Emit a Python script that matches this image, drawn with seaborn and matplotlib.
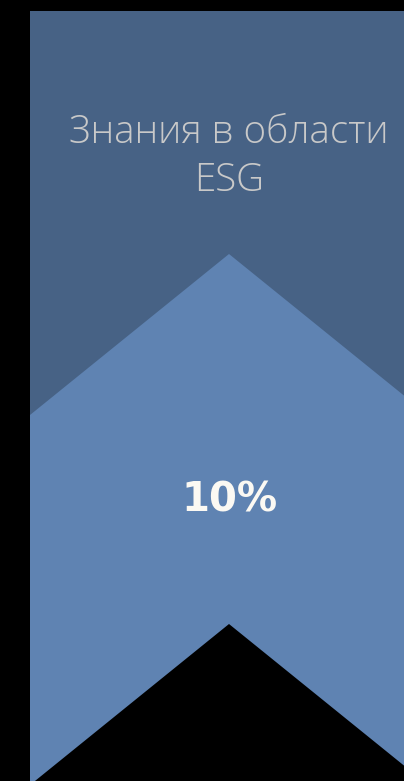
import matplotlib
matplotlib.use("Agg")
import matplotlib.pyplot as plt
import seaborn as sns

# data
labels = ["Знания в области\nESG"]
values = [10]

dark_blue = "#476285"
light_blue = "#5f83b2"
text_grey = "#c9c9c9"

sns.set_theme(style="white")
plt.rcParams["font.family"] = ["Open Sans", "DejaVu Sans"]

W, H = 404, 781
fig = plt.figure(figsize=(W / 100, H / 100), dpi=100, facecolor="black")
ax = fig.add_axes([0, 0, 1, 1])
ax.set_facecolor("black")
ax.set_xlim(0, W)
ax.set_ylim(H, 0)
ax.axis("off")

# ribbon: dark top block, light chevron body, black notch at the bottom
left, right_sym, cx = 30, 428, 229
ax.fill([left, right_sym, right_sym, left], [11, 11, 420, 420], color=dark_blue, lw=0)
ax.fill([left, cx, right_sym, right_sym, cx, left],
        [415, 254, 415, 785, 624, 785], color=light_blue, lw=0)

for lab, val in zip(labels, values):
    ax.text(cx, 157, lab, ha="center", va="center", fontsize=27.8,
            fontweight="light", color=text_grey, linespacing=1.33)
    ax.text(cx, 500, f"{val}%", ha="center", va="center", fontsize=29,
            fontweight="heavy", color="#fbf9f3", family=["DejaVu Sans"])

fig.savefig("out.png", dpi=100, facecolor="black")
